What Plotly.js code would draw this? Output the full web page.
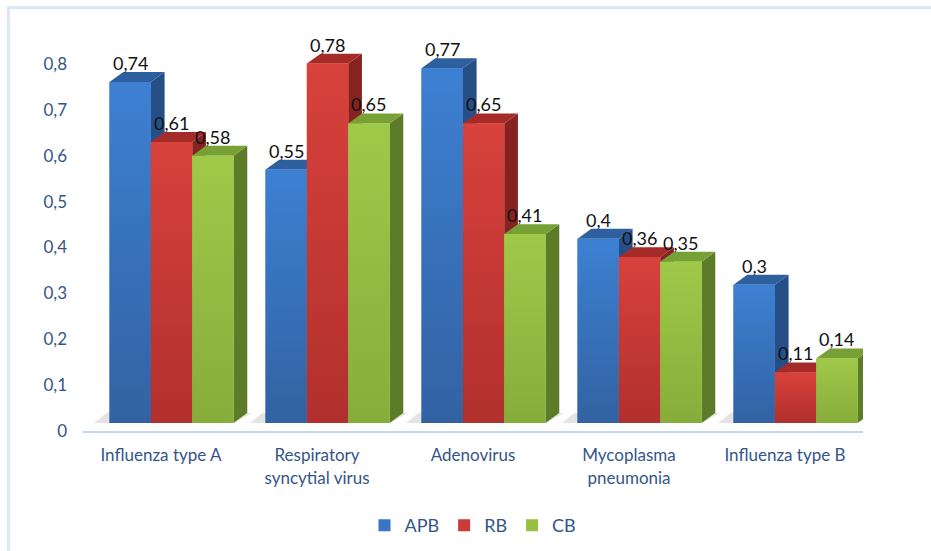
<!DOCTYPE html>
<html>
<head>
<meta charset="utf-8">
<script src="https://cdn.plot.ly/plotly-3.0.1.min.js"></script>
<style>
  html, body { margin: 0; padding: 0; background: #ffffff; }
  #wrap { position: relative; width: 931px; height: 551px; overflow: hidden; }
  #chart { position: absolute; left: 0; top: 0; width: 931px; height: 551px; }
  #frame { position: absolute; left: 7px; top: 6px; width: 940px; height: 560px;
           border-left: 3px solid #dde7f3; border-top: 3px solid #dde7f3; pointer-events: none; }
</style>
</head>
<body>
<div id="wrap"><div id="chart"></div><div id="frame"></div></div>
<script>
// ---- data ----
const categories = ['Influenza type A', 'Respiratory<br>syncytial virus', 'Adenovirus', 'Mycoplasma<br>pneumonia', 'Influenza type B'];
const seriesNames = ['APB', 'RB', 'CB'];
const apbValues = [0.74, 0.55, 0.77, 0.40, 0.30];
const rbValues  = [0.61, 0.78, 0.65, 0.36, 0.11];
const cbValues  = [0.58, 0.65, 0.41, 0.35, 0.14];
const yTickValues = [0, 0.1, 0.2, 0.3, 0.4, 0.5, 0.6, 0.7, 0.8];

// ---- styling ----
const FONT = 'Lato, "Open Sans", sans-serif';
const AXIS_TEXT = '#34558a';
const palettes = [
  { front: '#3a76c4', light: '#3d80d2', dark: '#3262a2', top: '#2e5f9f', side: '#264f88' },
  { front: '#cc3a36', light: '#d8413c', dark: '#b1302d', top: '#a52b29', side: '#862321' },
  { front: '#98c143', light: '#a0c94a', dark: '#86ad3a', top: '#77a035', side: '#5c7c2a' }
];
const seriesValues = [apbValues, rbValues, cbValues];
const barW = 0.265;          // width of the front face (category units)
const startOff = -0.33;      // offset of first bar in the group
const DX = 0.088;            // depth offset, x units
const DY = 0.0215;           // depth offset, y units

const xIdx = categories.map((_, i) => i);
const traces = [];
const sideShapes = [], topShapes = [], floorShapes = [];
const annotations = [];

// floor shadows
xIdx.forEach(i => {
  const x0 = i + startOff, x1 = i + startOff + 3 * barW;
  floorShapes.push({
    type: 'path', xref: 'x', yref: 'y', layer: 'below',
    path: `M${x0 - 0.1},0 L${x1},0 L${x1 + DX + 0.03},${DY} L${x0 - 0.02},${DY} Z`,
    fillcolor: 'rgba(205,205,205,0.55)', line: { width: 0 }
  });
});

seriesValues.forEach((vals, s) => {
  const pal = palettes[s];
  const off = startOff + s * barW;
  traces.push({
    type: 'bar', name: seriesNames[s], x: xIdx, y: vals,
    width: barW, offset: off,
    marker: { color: pal.front, line: { width: 0 } },
    hoverinfo: 'skip'
  });
  vals.forEach((v, i) => {
    const x0 = i + off, x1 = x0 + barW;
    sideShapes.push({
      type: 'path', xref: 'x', yref: 'y', layer: 'below',
      path: `M${x1},0 L${x1},${v} L${x1 + DX},${v + DY} L${x1 + DX},${DY} Z`,
      fillcolor: pal.side, line: { width: 0 }
    });
    topShapes.push({
      type: 'path', xref: 'x', yref: 'y', layer: 'below',
      path: `M${x0},${v} L${x1},${v} L${x1 + DX},${v + DY} L${x0 + DX},${v + DY} Z`,
      fillcolor: pal.top, line: { width: 0 }
    });
    annotations.push({
      xref: 'x', yref: 'y', x: x0 + barW / 2, y: v, yshift: 19,
      text: String(v).replace('.', ','), showarrow: false,
      xanchor: 'center', yanchor: 'middle',
      font: { family: FONT, size: 18, color: '#111111' }
    });
  });
});

// gradient overlay for each front face
seriesValues.forEach((vals, s) => {
  const pal = palettes[s];
  const off = startOff + s * barW;
  vals.forEach((v, i) => {
    const x0 = i + off, x1 = x0 + barW;
    traces.push({
      type: 'scatter', mode: 'lines', x: [x0, x1, x1, x0, x0], y: [0, 0, v, v, 0],
      fill: 'toself', line: { width: 0, color: pal.front },
      fillcolor: pal.front,
      fillgradient: { type: 'vertical', start: 0, stop: v, colorscale: [[0, pal.dark], [1, pal.light]] },
      showlegend: false, hoverinfo: 'skip'
    });
  });
});

// dummy trace so the tick axis is drawn
traces.push({ type: 'scatter', mode: 'markers', x: [0], y: [0], yaxis: 'y2',
  marker: { opacity: 0 }, showlegend: false, hoverinfo: 'skip' });

const layout = {
  width: 931, height: 551,
  margin: { l: 83, r: 68, t: 40, b: 120, autoexpand: false },
  paper_bgcolor: '#ffffff', plot_bgcolor: '#ffffff',
  separators: ',.',
  barmode: 'overlay',
  showlegend: true,
  xaxis: {
    range: [-0.5, 4.5], tickvals: xIdx, ticktext: categories,
    showline: true, linecolor: '#c8d7eb', linewidth: 2,
    showgrid: false, zeroline: false, ticks: '',
    tickfont: { family: FONT, size: 17, color: AXIS_TEXT },
    ticklabelstandoff: 8, fixedrange: true
  },
  yaxis: {
    range: [-0.01736, 0.83116], showticklabels: false, showgrid: false,
    zeroline: false, showline: false, ticks: '', fixedrange: true
  },
  yaxis2: {
    overlaying: 'y', side: 'left', range: [0, 0.8523],
    tickvals: yTickValues, showgrid: false, zeroline: false, showline: false, ticks: '',
    tickfont: { family: FONT, size: 17, color: AXIS_TEXT },
    ticklabelstandoff: 15, fixedrange: true
  },
  legend: {
    orientation: 'h', x: 0.5, xanchor: 'center', y: -0.242, yanchor: 'middle',
    font: { family: FONT, size: 18, color: AXIS_TEXT }, traceorder: 'normal'
  },
  shapes: floorShapes.concat(sideShapes, topShapes),
  annotations: annotations
};

Plotly.newPlot('chart', traces, layout, { displayModeBar: false, staticPlot: true });
</script>
</body>
</html>
